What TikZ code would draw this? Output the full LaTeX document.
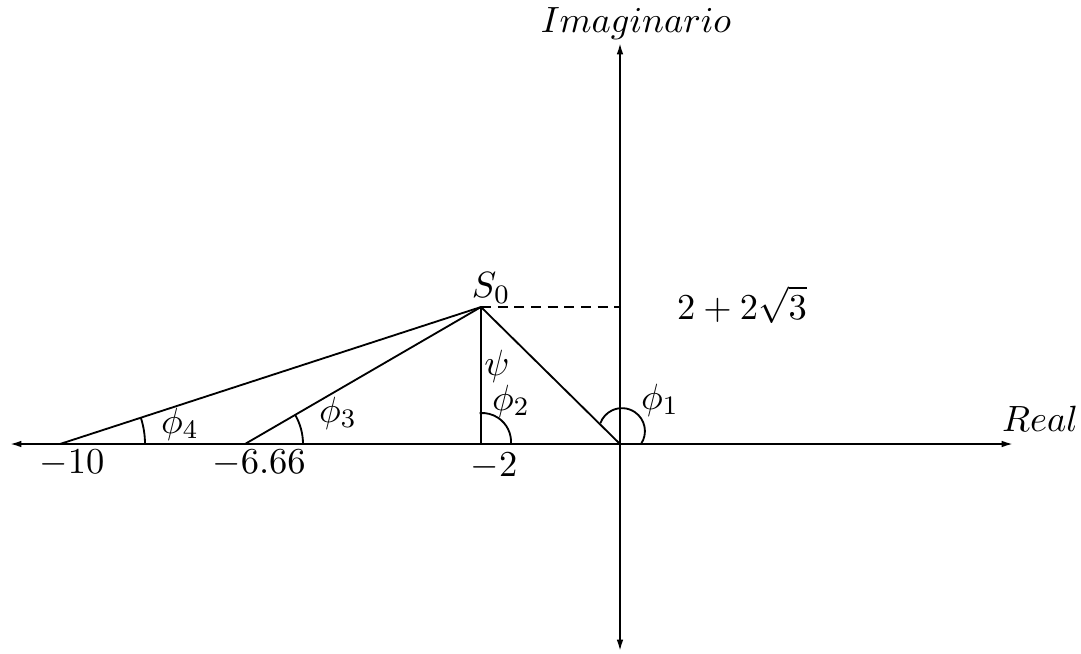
\documentclass[tikz,border=0pt]{standalone}
\usetikzlibrary{arrows.meta}
\begin{document}
\begin{tikzpicture}[x=0.3pt,y=-0.3pt,
  ln/.style={line width=0.55pt},
  axis/.style={ln,{Latex[length=3.4pt,width=2pt]}-{Latex[length=3.4pt,width=2pt]}},
  lbl/.style={font=\fontsize{11}{13}\selectfont, inner sep=0pt}]
\useasboundingbox (0,0) rectangle (1081,653);
% points
\coordinate (O) at (620,444);
\coordinate (P10) at (60,444);
\coordinate (P6) at (245,444);
\coordinate (P2) at (481,444);
\coordinate (S) at (481,307);
\coordinate (L) at (10,444);
\coordinate (R) at (1013,444);
\coordinate (T) at (620,43);
\coordinate (B) at (620,651);
\coordinate (D) at (620,307);
% arc start points
\coordinate (A4) at (145,444);
\coordinate (A3) at (303,444);
\coordinate (A2) at (511,444);
\coordinate (A1) at (641,444);
% axes
\draw[axis] (L) -- (R);
\draw[axis] (B) -- (T);
% lines
\draw[ln] (P10) -- (S);
\draw[ln] (P6) -- (S);
\draw[ln] (P2) -- (S);
\draw[ln] (O) -- (S);
\draw[ln,dash pattern=on 3pt off 2pt] (S) -- (D);
% arcs
\draw[ln] (A4) arc[start angle=0,end angle=-18,radius=85];
\draw[ln] (A3) arc[start angle=0,end angle=-30,radius=58];
\draw[ln] (A2) arc[start angle=4,end angle=-95,radius=29];
\draw[ln] (A1) arc[start angle=34,end angle=-160,radius=23];
% labels
\node[lbl] (l4) at (180,424) {$\phi_4$};
\node[lbl] (l3) at (338,413) {$\phi_3$};
\node[lbl] (lp) at (497,366) {$\psi$};
\node[lbl] (l2) at (511,401) {$\phi_2$};
\node[lbl] (l1) at (660,400) {$\phi_1$};
\node[lbl] (ls) at (491,288) {$S_0$};
\node[lbl] (lh) at (742,305) {$2+2\sqrt{3}$};
\node[lbl] (m10) at (72,463) {$-10$};
\node[lbl] (m6) at (259,463) {$-6.66$};
\node[lbl] (m2) at (494,466) {$-2$};
\node[lbl] (re) at (1040,419) {$Real$};
\node[lbl] (im) at (636,24) {$Imaginario$};
\end{tikzpicture}
\end{document}
